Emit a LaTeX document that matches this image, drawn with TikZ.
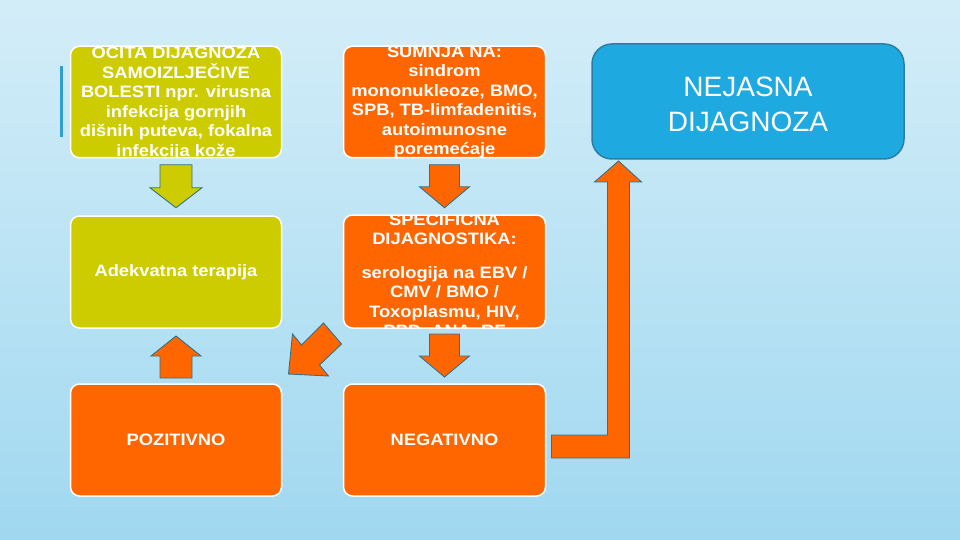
\documentclass[tikz,border=0pt]{standalone}
\usepackage{fontspec}
\setmainfont{Liberation Sans}
\newfontfamily\boxfont{Liberation Sans}[FakeStretch=1.11]
\usetikzlibrary{calc}
\definecolor{boxolive}{HTML}{CCCC00}
\definecolor{boxorange}{HTML}{FF6600}
\definecolor{boxblue}{HTML}{1EAAE1}
\definecolor{blueedge}{HTML}{2A7EA3}
\definecolor{arrowedge}{HTML}{33708C}
\definecolor{barblue}{HTML}{2E9FD0}
\definecolor{bgtop}{HTML}{EDF8FC}
\definecolor{bgmid}{HTML}{A0D8F0}
\definecolor{bgbot}{HTML}{B2E1F4}
\pgfdeclareverticalshading{slidebg}{100bp}{color(0bp)=(bgbot); color(25bp)=(bgmid); color(100bp)=(bgtop)}
\tikzset{
  box/.style={draw=white, line width=1.5pt, rounded corners=9pt, inner sep=0pt, outer sep=0pt},
  oliveb/.style={box, fill=boxolive},
  orangeb/.style={box, fill=boxorange},
  blueb/.style={draw=blueedge, fill=boxblue, line width=1.5pt, rounded corners=20pt, inner sep=0pt, outer sep=0pt},
  btext/.style={text=white, font=\boxfont\bfseries\fontsize{16.5}{19.5}\selectfont, align=center, inner sep=0pt},
  ntext/.style={text=white, font=\fontsize{28}{35}\selectfont, align=center, inner sep=0pt},
  barrow/.style={draw=arrowedge, line width=0.9pt, line join=miter},
}
\begin{document}
\begin{tikzpicture}[x=1pt,y=-1pt]
\useasboundingbox (0,0) rectangle (960,540);
\fill[shading=slidebg] (0,0) rectangle (960,540);
\draw[line width=3pt, barblue] (61,66) -- (61,137);
% boxes
\node[oliveb, minimum width=211pt, minimum height=111.5pt] (b1) at (176,102) {};
\node[orangeb, minimum width=202pt, minimum height=111.5pt] (b2) at (444.5,102) {};
\node[oliveb, minimum width=211pt, minimum height=112pt] (b3) at (176,272) {};
\node[orangeb, minimum width=202pt, minimum height=113pt] (b4) at (444.5,271.5) {};
\node[orangeb, minimum width=211pt, minimum height=112pt] (b5) at (176,440) {};
\node[orangeb, minimum width=202pt, minimum height=112pt] (b6) at (444.5,440) {};
\node[blueb, minimum width=312pt, minimum height=115pt] (b7) at (748,101.5) {};
% texts, clipped to their boxes
\begin{scope}
\clip[rounded corners=9pt] (b1.south west) rectangle (b1.north east);
\node[btext] (t1) at (176,102) {OČITA DIJAGNOZA\\SAMOIZLJEČIVE\\BOLESTI npr. virusna\\infekcija gornjih\\dišnih puteva, fokalna\\infekcija kože};
\end{scope}
\begin{scope}
\clip[rounded corners=9pt] (b2.south west) rectangle (b2.north east);
\node[btext] (t2) at (444.5,102) {SUMNJA NA:\\sindrom\\mononukleoze, BMO,\\SPB, TB-limfadenitis,\\autoimunosne\\poremećaje};
\end{scope}
\begin{scope}
\clip[rounded corners=9pt] (b4.south west) rectangle (b4.north east);
\node[btext] (t4) at (444.5,275) {SPECIFIČNA\\DIJAGNOSTIKA:\\[14pt]serologija na EBV /\\CMV / BMO /\\Toxoplasmu, HIV,\\PPD, ANA, RF};
\end{scope}
\node[btext] (t3) at (b3) {Adekvatna terapija};
\node[btext] (t5) at (b5) {POZITIVNO};
\node[btext] (t6) at (b6) {NEGATIVNO};
\node[ntext] (t7) at (748,104) {NEJASNA\\DIJAGNOZA};
% block arrows
\draw[barrow, fill=boxolive] (b1.south) ++(-16,7) -- ++(32,0) -- ++(0,23) -- ++(10,0) -- ++(-26,20) -- ++(-26,-20) -- ++(10,0) -- cycle;
\draw[barrow, fill=boxorange] (b2.south) ++(-15,7) -- ++(30,0) -- ++(0,22) -- ++(10,0) -- ++(-25,21) -- ++(-25,-21) -- ++(10,0) -- cycle;
\draw[barrow, fill=boxorange] (b4.south) ++(-15,6) -- ++(30,0) -- ++(0,22) -- ++(10,0) -- ++(-25,21) -- ++(-25,-21) -- ++(10,0) -- cycle;
\draw[barrow, fill=boxorange] (b5.north) ++(-16,-6) -- ++(0,-22) -- ++(-9,0) -- ++(25,-20) -- ++(25,20) -- ++(-9,0) -- ++(0,22) -- cycle;
\draw[barrow, fill=boxorange] (b4.south west) ++(-55,46) -- ++(40,2) -- ++(-9,-11) -- ++(22,-21) -- ++(-18,-21) -- ++(-22,22) -- ++(-9,-11) -- cycle;
\draw[barrow, fill=boxorange] (b6.east) ++(6,-5) -- ++(56,0) -- ++(0,-253) -- ++(-13,0) -- ++(24,-21) -- ++(23,21) -- ++(-12,0) -- ++(0,276) -- ++(-78,0) -- cycle;
\end{tikzpicture}
\end{document}
